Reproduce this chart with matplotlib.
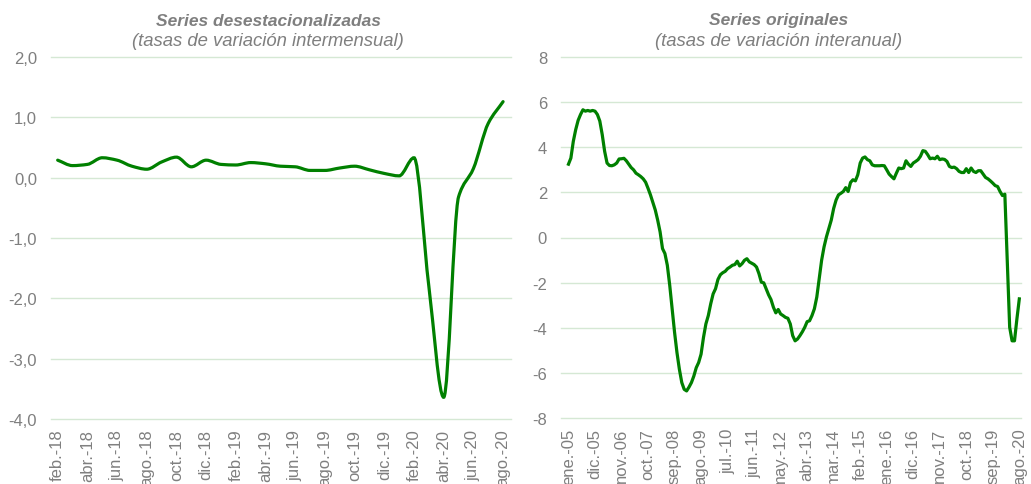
import numpy as np
import matplotlib
matplotlib.use("Agg")
import matplotlib.pyplot as plt
from matplotlib.path import Path
from matplotlib.patches import PathPatch

plt.rcParams['font.family'] = ['Liberation Sans', 'DejaVu Sans']

# serie desestacionalizada, feb-18 .. ago-20 (tasa intermensual)
sa_values = [0.29, 0.20, 0.22, 0.33, 0.29, 0.19, 0.14, 0.26, 0.34, 0.18,
             0.29, 0.22, 0.21, 0.25, 0.23, 0.19, 0.18, 0.12, 0.12, 0.16,
             0.19, 0.13, 0.07, 0.03, 0.33, -1.80, -3.64, -0.32, 0.15, 0.90,
             1.26]
sa_ticks = ["feb.-18", "abr.-18", "jun.-18", "ago.-18", "oct.-18", "dic.-18",
            "feb.-19", "abr.-19", "jun.-19", "ago.-19", "oct.-19", "dic.-19",
            "feb.-20", "abr.-20", "jun.-20", "ago.-20"]
sa_yticks = [-4, -3, -2, -1, 0, 1, 2]

# serie original, ene-05 .. ago-20 (tasa interanual)
orig_values = [3.25, 3.52, 4.26, 4.78, 5.19, 5.45, 5.66, 5.60, 5.63, 5.60,
               5.63, 5.60, 5.45, 5.16, 4.56, 3.82, 3.30, 3.19, 3.18, 3.22,
               3.30, 3.48, 3.49, 3.51, 3.40, 3.25, 3.10, 3.00, 2.85, 2.78,
               2.70, 2.60, 2.45, 2.18, 1.89, 1.55, 1.22, 0.77, 0.25, -0.49,
               -0.71, -1.23, -2.12, -3.16, -4.20, -5.10, -5.84, -6.43, -6.73, -6.80,
               -6.63, -6.43, -6.14, -5.77, -5.54, -5.17, -4.43, -3.83, -3.46, -2.94,
               -2.50, -2.27, -1.86, -1.65, -1.56, -1.50, -1.38, -1.31, -1.23, -1.20,
               -1.05, -1.26, -1.16, -1.01, -0.94, -1.08, -1.14, -1.20, -1.31, -1.60,
               -1.98, -2.01, -2.27, -2.54, -2.75, -3.09, -3.34, -3.19, -3.39, -3.46,
               -3.54, -3.58, -3.83, -4.35, -4.58, -4.50, -4.35, -4.18, -3.98, -3.73,
               -3.69, -3.46, -3.16, -2.64, -1.83, -1.01, -0.42, 0.03, 0.40, 0.77,
               1.29, 1.66, 1.89, 1.96, 2.04, 2.21, 2.04, 2.44, 2.56, 2.51,
               2.78, 3.30, 3.52, 3.57, 3.45, 3.40, 3.22, 3.18, 3.18, 3.18,
               3.19, 3.18, 3.00, 2.81, 2.70, 2.60, 2.85, 3.08, 3.05, 3.08,
               3.40, 3.25, 3.15, 3.30, 3.37, 3.45, 3.60, 3.85, 3.82, 3.67,
               3.49, 3.52, 3.49, 3.60, 3.45, 3.48, 3.46, 3.37, 3.15, 3.10,
               3.12, 3.05, 2.93, 2.88, 2.88, 3.05, 2.88, 3.08, 2.93, 2.88,
               2.96, 2.96, 2.81, 2.66, 2.60, 2.51, 2.41, 2.30, 2.26, 2.04,
               1.86, 1.92, -1.00, -3.98, -4.58, -4.58, -3.61, -2.72]
orig_ticks = ["ene.-05", "dic.-05", "nov.-06", "oct.-07", "sep.-08", "ago.-09",
              "jul.-10", "jun.-11", "may.-12", "abr.-13", "mar.-14", "feb.-15",
              "ene.-16", "dic.-16", "nov.-17", "oct.-18", "sep.-19", "ago.-20"]
orig_yticks = [-8, -6, -4, -2, 0, 2, 4, 6, 8]

GREEN = '#008000'
GRID = '#d5e8d4'
GREY = '#7f7f7f'


def smooth_path(x, y):
    # smoothed line: cubic bezier segments with monotone (pchip) slopes
    x = np.asarray(x, float)
    y = np.asarray(y, float)
    d = np.diff(y) / np.diff(x)
    m = np.zeros_like(y)
    m[0], m[-1] = d[0], d[-1]
    for i in range(1, len(y) - 1):
        if d[i - 1] * d[i] > 0:
            m[i] = 2 / (1 / d[i - 1] + 1 / d[i])
    verts = [(x[0], y[0])]
    codes = [Path.MOVETO]
    for i in range(len(y) - 1):
        h = (x[i + 1] - x[i]) / 3
        verts += [(x[i] + h, y[i] + m[i] * h), (x[i + 1] - h, y[i + 1] - m[i + 1] * h),
                  (x[i + 1], y[i + 1])]
        codes += [Path.CURVE4] * 3
    return Path(verts, codes)


def style(ax, yticks, ylabels, xpos, xlabels):
    for s in ax.spines.values():
        s.set_visible(False)
    ax.set_yticks(yticks)
    ax.set_yticklabels(ylabels)
    ax.set_xticks(xpos)
    ax.set_xticklabels(xlabels, rotation=90)
    ax.tick_params(length=0, labelsize=12, labelcolor=GREY)
    ax.tick_params(axis='y', pad=10)
    ax.tick_params(axis='x', pad=7)
    ax.grid(axis='y', color=GRID, linewidth=1)
    ax.set_axisbelow(True)
    for gl in ax.get_ygridlines():
        gl.set_clip_on(False)


fig = plt.figure(figsize=(10.31, 4.85), dpi=100)

# left panel
ax1 = fig.add_axes([51 / 1031, 65 / 485, 459.5 / 1031, 362 / 485])
ax1.set_xlim(-0.45, 30.5)
ax1.set_ylim(-4, 2)
x1 = np.arange(len(sa_values))
style(ax1, sa_yticks, [f"{v:.1f}".replace('.', ',') for v in sa_yticks],
      x1[::2], sa_ticks)
ax1.add_patch(PathPatch(smooth_path(x1, sa_values), facecolor='none',
                        edgecolor=GREEN, linewidth=2.3, capstyle='round'))

# right panel
ax2 = fig.add_axes([561 / 1031, 66 / 485, 460 / 1031, 361 / 485])
ax2.set_xlim(-3.1, 187.7)
ax2.set_ylim(-8, 8)
x2 = np.arange(len(orig_values))
style(ax2, orig_yticks, [str(v) for v in orig_yticks], x2[::11], orig_ticks)
ax2.plot(x2, orig_values, color=GREEN, linewidth=2.3, solid_joinstyle='round')

fig.text(268 / 1031, 1 - 21 / 485, "Series desestacionalizadas", ha='center', va='center',
         fontsize=12.5, fontweight='bold', style='italic', color=GREY)
fig.text(268 / 1031, 1 - 42 / 485, "(tasas de variación intermensual)", ha='center', va='center',
         fontsize=13.3, style='italic', color=GREY)
fig.text(779 / 1031, 1 - 21 / 485, "Series originales", ha='center', va='center',
         fontsize=12.5, fontweight='bold', style='italic', color=GREY)
fig.text(779 / 1031, 1 - 42 / 485, "(tasas de variación interanual)", ha='center', va='center',
         fontsize=13.3, style='italic', color=GREY)

fig.savefig("out.png", dpi=100)
